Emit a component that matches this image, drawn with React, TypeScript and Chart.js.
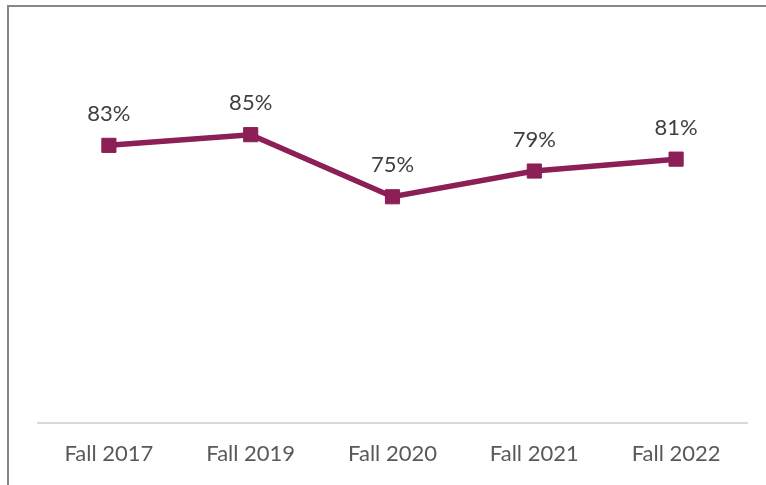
import React, { useEffect, useRef } from "react";
import { Chart, registerables } from "chart.js";

Chart.register(...registerables);

const categories = ["Fall 2017", "Fall 2019", "Fall 2020", "Fall 2021", "Fall 2022"];
const values = [83.2, 84.9, 75, 79.1, 81];
const valueLabels = ["83%", "85%", "75%", "79%", "81%"];

const LINE_COLOR = "#8B1F56";

const labelPlugin = {
  id: "valueLabels",
  afterDatasetsDraw(chart: any) {
    const ctx = chart.ctx;
    const meta = chart.getDatasetMeta(0);
    ctx.save();
    ctx.font = "22px Lato";
    ctx.fillStyle = "#404040";
    ctx.textAlign = "center";
    ctx.textBaseline = "alphabetic";
    meta.data.forEach((pt: any, i: number) => {
      ctx.fillText(valueLabels[i], pt.x, pt.y - 24.5);
    });
    ctx.restore();
  },
};

export default function App() {
  const ref = useRef<HTMLCanvasElement | null>(null);
  useEffect(() => {
    if (!ref.current) return;
    const chart = new Chart(ref.current, {
      type: "line",
      data: {
        labels: categories,
        datasets: [
          {
            data: values,
            borderColor: LINE_COLOR,
            backgroundColor: LINE_COLOR,
            borderWidth: 5.5,
            pointStyle: "rect",
            pointRadius: 10,
            pointBorderWidth: 1,
            pointBackgroundColor: LINE_COLOR,
            pointBorderColor: LINE_COLOR,
            tension: 0,
          },
        ],
      },
      options: {
        animation: false,
        responsive: false,
        maintainAspectRatio: false,
        layout: { padding: { top: 40, left: 38, right: 19, bottom: 0 } },
        plugins: { legend: { display: false }, tooltip: { enabled: false } },
        scales: {
          y: { display: false, min: 39, max: 100 },
          x: {
            offset: true,
            afterFit: (s: any) => {
              s.height = 62.5;
            },
            grid: { display: false, drawTicks: false },
            border: { display: true, color: "#D9D9D9", width: 2 },
            ticks: {
              color: "#595959",
              font: { family: "Lato", size: 22 },
              padding: 18,
              maxRotation: 0,
            },
          },
        },
      },
      plugins: [labelPlugin],
    });
    return () => chart.destroy();
  }, []);
  return (
    <div style={{ position: "fixed", left: 0, top: 0, width: 766, height: 485, background: "#fff" }}>
      <canvas ref={ref} width={766} height={485} style={{ position: "absolute", left: 0, top: 0 }} />
      <div
        style={{
          position: "absolute",
          left: 7,
          top: 5,
          right: 0,
          bottom: 0,
          borderLeft: "2px solid #878787",
          borderTop: "2px solid #878787",
          pointerEvents: "none",
        }}
      />
    </div>
  );
}
